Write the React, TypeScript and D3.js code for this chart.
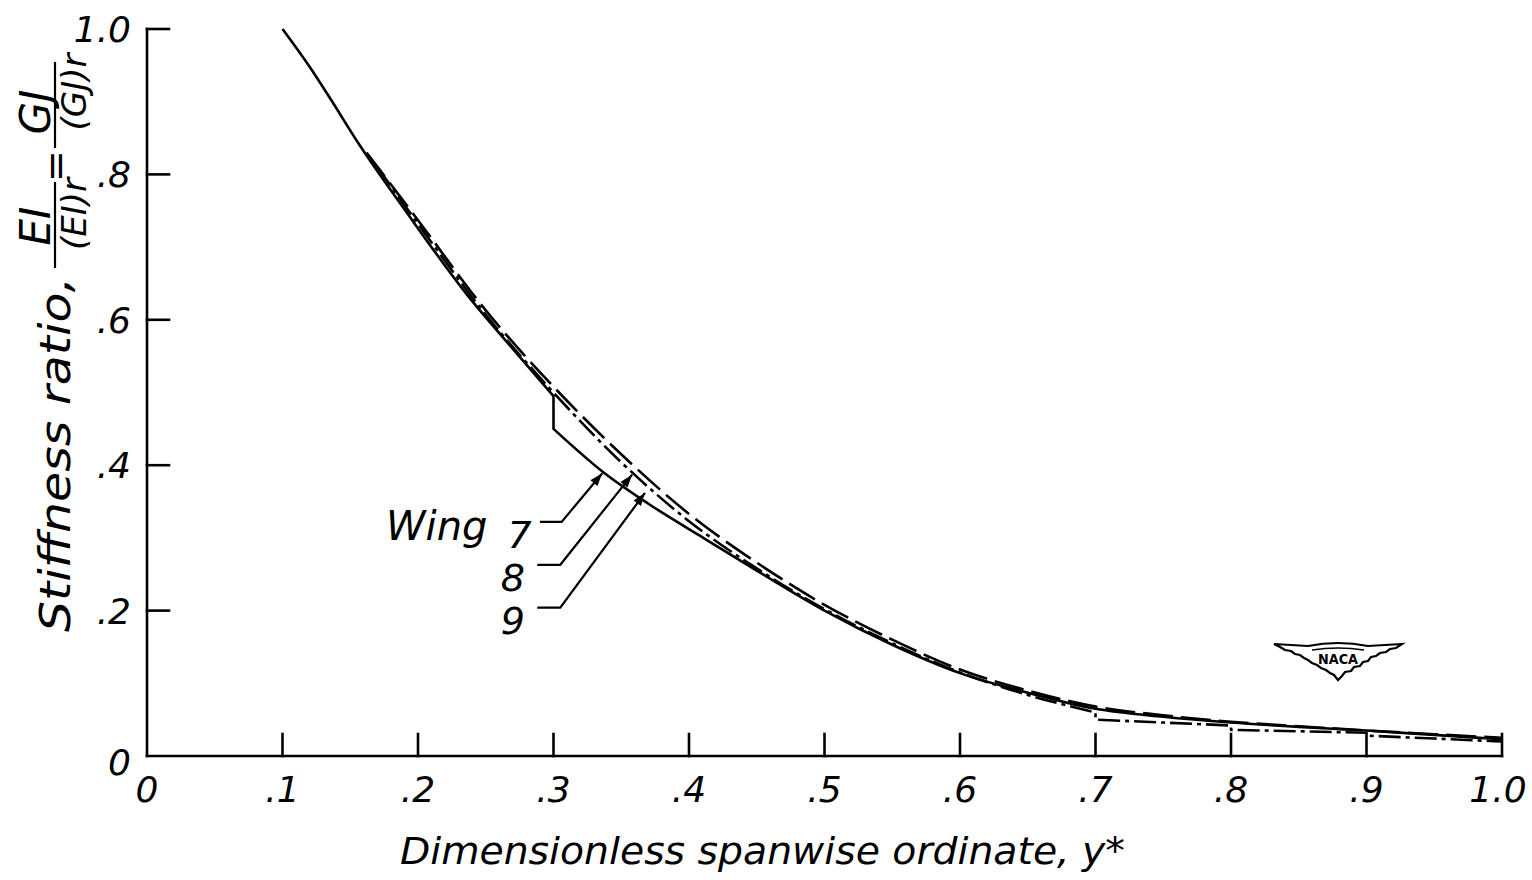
import React from "react";
import * as d3 from "d3";

const W = 1532;
const H = 880;

// x-axis tick values and labels
const xTickValues = [0, 0.1, 0.2, 0.3, 0.4, 0.5, 0.6, 0.7, 0.8, 0.9, 1.0];
const xTickLabels = ["0", ".1", ".2", ".3", ".4", ".5", ".6", ".7", ".8", ".9", "1.0"];
// y-axis tick values and labels
const yTickValues = [0, 0.2, 0.4, 0.6, 0.8, 1.0];
const yTickLabels = ["0", ".2", ".4", ".6", ".8", "1.0"];

// Wing 7 (solid) - segments split at stiffness step at y* = .3
const wing7Segments: [number, number][][] = [
  [
    [0.1, 1.0], [0.12, 0.948], [0.135, 0.905], [0.157, 0.84], [0.19, 0.752],
    [0.236, 0.635], [0.27, 0.56], [0.3, 0.495],
  ],
  [
    [0.3, 0.45], [0.337, 0.39], [0.37, 0.347], [0.408, 0.303], [0.45, 0.255],
    [0.5, 0.2], [0.55, 0.153], [0.6, 0.114], [0.65, 0.087],
    [0.7, 0.065], [0.75, 0.054], [0.8, 0.046], [0.85, 0.04], [0.9, 0.035],
    [0.95, 0.029], [1.0, 0.023],
  ],
];

// Wing 8 (long dash)
const wing8Segments: [number, number][][] = [
  [
    [0.162, 0.83], [0.2, 0.737], [0.25, 0.613], [0.3, 0.508], [0.35, 0.415],
    [0.4, 0.333], [0.45, 0.266], [0.5, 0.208], [0.55, 0.16], [0.6, 0.119],
    [0.65, 0.09], [0.7, 0.068], [0.75, 0.056], [0.8, 0.047], [0.85, 0.041],
    [0.9, 0.035], [0.95, 0.03], [1.0, 0.025],
  ],
];

// Wing 9 (dash-dot) - steps at .7, .8, .9
const wing9Segments: [number, number][][] = [
  [
    [0.17, 0.81], [0.2, 0.732], [0.25, 0.607], [0.3, 0.5], [0.35, 0.404],
    [0.4, 0.323], [0.45, 0.258], [0.5, 0.202], [0.55, 0.155], [0.6, 0.115],
    [0.65, 0.084], [0.7, 0.06],
  ],
  [[0.7, 0.05], [0.75, 0.046], [0.8, 0.042]],
  [[0.8, 0.036], [0.85, 0.034], [0.9, 0.032]],
  [[0.9, 0.028], [0.95, 0.024], [1.0, 0.02]],
];

// Annotation: wing labels with leader lines (data units)
const wingLabels = ["7", "8", "9"];
const labelX = [0.275, 0.27, 0.27];
const labelY = [0.305, 0.246, 0.187];
const lineStartX = [0.29, 0.288, 0.288];
const elbowX = [0.306, 0.305, 0.305];
const elbowY = [0.322, 0.263, 0.204];
const tipX = [0.336, 0.358, 0.3675];
const tipY = [0.389, 0.387, 0.362];

const FONT = "'DejaVu Sans', 'Liberation Sans', sans-serif";

export default function App() {
  const x = d3.scaleLinear().domain([0, 1]).range([147, 1502]);
  const y = d3.scaleLinear().domain([0, 1]).range([756, 29]);

  const line = d3
    .line<[number, number]>()
    .x((d) => x(d[0]))
    .y((d) => y(d[1]))
    .curve(d3.curveMonotoneX);

  const segPath = (segs: [number, number][][]) =>
    segs
      .map((s, i) => {
        const d = line(s) || "";
        return i === 0 ? d : d.replace(/^M/, "L");
      })
      .join("");

  const tickLen = 22;
  const sw = 2.6;

  const textStyle = {
    fontFamily: FONT,
    fontStyle: "italic" as const,
    fontWeight: 200,
    fill: "#000",
  };

  const arrowHead = (i: number) => {
    const tx = x(tipX[i]);
    const ty = y(tipY[i]);
    const ex = x(elbowX[i]);
    const ey = y(elbowY[i]);
    const ang = Math.atan2(ty - ey, tx - ex);
    const L = 13;
    const Wd = 4.5;
    const bx = tx - L * Math.cos(ang);
    const by = ty - L * Math.sin(ang);
    const px = -Math.sin(ang) * Wd;
    const py = Math.cos(ang) * Wd;
    return `M${tx},${ty}L${bx + px},${by + py}L${bx - px},${by - py}Z`;
  };

  const logoPath =
    "M-64,-15 L-30,-13 Q0,-19 30,-13 L64,-15 L58,-11 L52,-10 L48,-7 L42,-6 L38,-3 L33,-2 L30,2 L25,3 L22,7 L16,8 L13,12 L7,13 L4,17 L0,21 L-4,16 L-8,14 L-12,11 L-17,9 L-21,6 L-26,4 L-30,1 L-34,-1 L-38,-4 L-43,-5 L-47,-8 L-53,-9 L-58,-12 Z";

  return (
    <svg
      width={W}
      height={H}
      viewBox={`0 0 ${W} ${H}`}
      style={{ position: "absolute", left: 0, top: 0, background: "#fff" }}
    >
      <rect x={0} y={0} width={W} height={H} fill="#fff" />

      {/* axes */}
      <g stroke="#000" strokeWidth={sw} fill="none" strokeLinecap="square">
        <line x1={x(0)} y1={y(0)} x2={x(1)} y2={y(0)} />
        <line x1={x(0)} y1={y(0)} x2={x(0)} y2={y(1)} />
        {xTickValues
          .filter((v) => v > 0)
          .map((v) => (
            <line key={"xt" + v} x1={x(v)} y1={y(0)} x2={x(v)} y2={y(0) - tickLen} />
          ))}
        {yTickValues
          .filter((v) => v > 0)
          .map((v) => (
            <line key={"yt" + v} x1={x(0)} y1={y(v)} x2={x(0) + tickLen} y2={y(v)} />
          ))}
      </g>

      {/* x tick labels */}
      {xTickValues.map((v, i) => (
        <text
          key={"xl" + v}
          x={x(v) + (v === 1 ? -4 : 0)}
          y={802}
          textAnchor="middle"
          fontSize={36}
          style={textStyle}
        >
          {xTickLabels[i]}
        </text>
      ))}

      {/* y tick labels */}
      {yTickValues.map((v, i) => (
        <text
          key={"yl" + v}
          x={x(0) - 16}
          y={y(v) + (v === 0 ? 19 : 13)}
          textAnchor="end"
          fontSize={36}
          style={textStyle}
        >
          {yTickLabels[i]}
        </text>
      ))}

      {/* x axis title */}
      <text x={400} y={864} fontSize={38} textLength={725} lengthAdjust="spacingAndGlyphs" style={textStyle}>
        Dimensionless spanwise ordinate, y*
      </text>

      {/* y axis title (rotated) */}
      <g transform="rotate(-90)">
        <text x={-632} y={70} fontSize={42} textLength={355} lengthAdjust="spacingAndGlyphs" style={textStyle}>
          Stiffness ratio,
        </text>
        <text x={-226} y={50} fontSize={42} textAnchor="middle" style={textStyle}>
          EI
        </text>
        <line x1={-268} y1={55} x2={-182} y2={55} stroke="#000" strokeWidth={2.2} />
        <text x={-214} y={86} fontSize={34} textAnchor="middle" style={textStyle}>
          (EI)r
        </text>
        <text x={-166} y={68} fontSize={38} textAnchor="middle" style={textStyle}>
          =
        </text>
        <text x={-112} y={50} fontSize={42} textAnchor="middle" style={textStyle}>
          GJ
        </text>
        <line x1={-148} y1={55} x2={-62} y2={55} stroke="#000" strokeWidth={2.2} />
        <text x={-92} y={86} fontSize={34} textAnchor="middle" style={textStyle}>
          (GJ)r
        </text>
      </g>

      {/* curves */}
      <g fill="none" stroke="#000" strokeWidth={2.6} strokeLinejoin="round">
        <path d={segPath(wing7Segments)} />
        <path d={segPath(wing8Segments)} strokeDasharray="30 8" />
        <path d={segPath(wing9Segments)} strokeDasharray="22 5 4 5" />
      </g>

      {/* Wing annotation */}
      <text x={386} y={540} fontSize={40} style={textStyle}>
        Wing
      </text>
      {wingLabels.map((lab, i) => (
        <g key={"wl" + lab}>
          <text x={x(labelX[i])} y={y(labelY[i]) + 14} fontSize={38} textAnchor="middle" style={textStyle}>
            {lab}
          </text>
          <path
            d={`M${x(lineStartX[i])},${y(elbowY[i])}L${x(elbowX[i])},${y(elbowY[i])}L${x(tipX[i])},${y(tipY[i])}`}
            fill="none"
            stroke="#000"
            strokeWidth={2.2}
          />
          <path d={arrowHead(i)} fill="#000" />
        </g>
      ))}

      {/* NACA logo */}
      <g transform="translate(1338,659)">
        <path d={logoPath} fill="#fff" stroke="#000" strokeWidth={2.2} strokeLinejoin="miter" />
        <path d="M-26,-9 Q0,-13 26,-9" fill="none" stroke="#000" strokeWidth={1.5} />
        <text
          x={0}
          y={5}
          fontSize={14}
          fontWeight={700}
          textAnchor="middle"
          textLength={40}
          lengthAdjust="spacingAndGlyphs"
          fontFamily="'DejaVu Sans', sans-serif"
          fill="#000"
        >
          NACA
        </text>
      </g>
    </svg>
  );
}
